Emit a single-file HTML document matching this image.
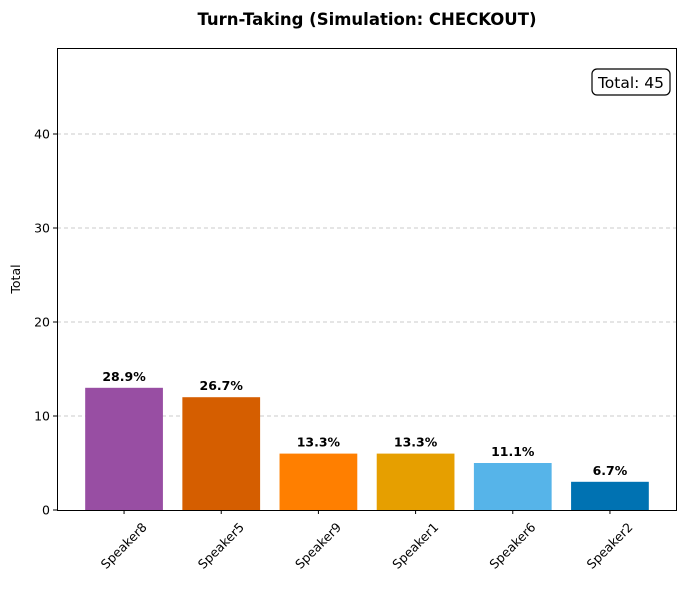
<!DOCTYPE html>
<html><head><meta charset="utf-8"><style>
body{margin:0;background:#fff;font-family:"DejaVu Sans","Liberation Sans",sans-serif}
</style></head><body>
<svg width="686" height="586" viewBox="0 0 686 586" xmlns="http://www.w3.org/2000/svg" id="chart">
<text x="367" y="25" text-anchor="middle" font-size="16.5" font-weight="bold">Turn-Taking (Simulation: CHECKOUT)</text>
<g id="grid"></g><g id="bars"></g><g id="xaxis"></g><g id="yaxis"></g>
<rect x="57.5" y="48.5" width="619" height="462" fill="none" stroke="#000" stroke-width="1"/>
<text x="20" y="279" transform="rotate(-90 20 279)" text-anchor="middle" font-size="12.5">Total</text>
<g>
<rect x="592" y="69" width="78" height="26" rx="5" fill="#fff" stroke="#000" stroke-width="1.2"/>
<text x="631" y="88" text-anchor="middle" font-size="15.5">Total: 45</text>
</g>
</svg>
<script>
const categories=["Speaker8","Speaker5","Speaker9","Speaker1","Speaker6","Speaker2"];
const values=[13,12,6,6,5,3];
const pctLabels=["28.9%","26.7%","13.3%","13.3%","11.1%","6.7%"];
const colors=["#984ea3","#d55e00","#ff7f00","#e69f00","#56b4e9","#0072b2"];
const yTicks=[0,10,20,30,40];
const L=57,R=677,T=48,B=510,yMax=49.15;
const xmin=-0.69,xmax=5.69;
const x=i=>L+(i-xmin)/(xmax-xmin)*(R-L);
const y=v=>B-v/yMax*(B-T);
const bw=0.8*(R-L)/(xmax-xmin);
const ns="http://www.w3.org/2000/svg";
function mk(t,a,p){const e=document.createElementNS(ns,t);for(const k in a)e.setAttribute(k,a[k]);p.appendChild(e);return e;}
const grid=document.getElementById('grid'),bars=document.getElementById('bars'),xa=document.getElementById('xaxis'),ya=document.getElementById('yaxis');
yTicks.forEach(t=>{
 if(t>0){const g=mk('line',{x1:L,x2:R,y1:y(t),y2:y(t),stroke:'#bbb','stroke-dasharray':'4,3','stroke-width':0.8},grid);
 
 }
 const tk=mk('line',{x1:L-4,x2:L,y1:y(t),y2:y(t),stroke:'#000'},ya);
 
 
 const tl=mk('text',{x:L-7,y:y(t)+4.5,'text-anchor':'end','font-size':12.5},ya);tl.textContent=t;
 
 
});
categories.forEach((c,i)=>{
 const cx=x(i);
 const b=mk('rect',{x:cx-bw/2,y:y(values[i]),width:bw,height:B-y(values[i]),fill:colors[i]},bars);
 
 
 const v=mk('text',{x:cx,y:y(values[i])-7,'text-anchor':'middle','font-size':12.5,'font-weight':'bold'},bars);v.textContent=pctLabels[i];
 
 
 const tk=mk('line',{x1:cx,x2:cx,y1:B,y2:B+4,stroke:'#000'},xa);
 
 
 const tl=mk('text',{x:cx,y:550,'text-anchor':'middle','font-size':12.5,transform:`rotate(-45 ${cx} 546)`},xa);tl.textContent=c;
 
 
});
</script>
</body></html>
